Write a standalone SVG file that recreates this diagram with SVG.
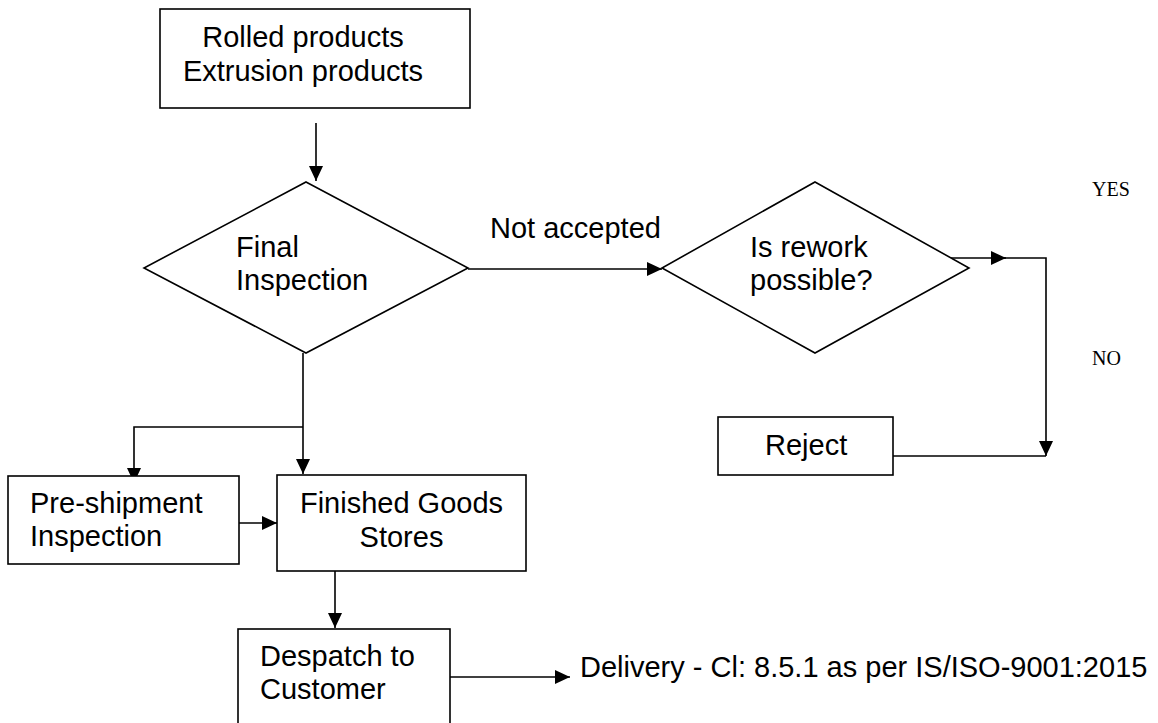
<svg xmlns="http://www.w3.org/2000/svg" width="1158" height="723" viewBox="0 0 1158 723">
  <style>
    .box { fill: #ffffff; stroke: #000000; stroke-width: 1.6; }
    .lbl { font-family: "Liberation Sans", Arial, sans-serif; font-size: 29px; fill: #000000; }
    .mid { text-anchor: middle; }
    .serif { font-family: "Liberation Serif", "Times New Roman", serif; font-size: 20px; fill: #000000; }
    .wire { fill: none; stroke: #000000; stroke-width: 1.6; }
  </style>
  <defs>
    <marker id="arrow" markerUnits="userSpaceOnUse" markerWidth="16" markerHeight="14" refX="15" refY="7" orient="auto">
      <path d="M0,0 L15,7 L0,14 Z" fill="#000000"/>
    </marker>
  </defs>
  <rect width="1158" height="723" fill="#ffffff"/>

  <!-- connectors -->
  <g id="connectors">
    <path class="wire" d="M316,123 V181" marker-end="url(#arrow)"/>
    <path class="wire" d="M468,269 H662" marker-end="url(#arrow)"/>
    <path class="wire" d="M950,258 H1006" marker-end="url(#arrow)"/>
    <path class="wire" d="M1004,258 H1046 V456" marker-end="url(#arrow)"/>
    <path class="wire" d="M893,456 H1046"/>
    <path class="wire" d="M303,353 V474" marker-end="url(#arrow)"/>
    <path class="wire" d="M303,427 H134 V483" marker-end="url(#arrow)"/>
    <path class="wire" d="M230,523 H277" marker-end="url(#arrow)"/>
    <path class="wire" d="M335,571 V628" marker-end="url(#arrow)"/>
    <path class="wire" d="M450,677 H570" marker-end="url(#arrow)"/>
    <text class="lbl" x="490" y="238">Not accepted</text>
    <text class="serif" x="1092" y="196">YES</text>
    <text class="serif" x="1092" y="365">NO</text>
  </g>

  <!-- nodes -->
  <g id="products">
    <rect class="box" x="160" y="9" width="310" height="99"/>
    <text class="lbl mid" x="303" y="47">Rolled products</text>
    <text class="lbl mid" x="303" y="81">Extrusion products</text>
  </g>
  <g id="final-inspection">
    <polygon class="box" points="306,182 468,268 306,353 144,268"/>
    <text class="lbl" x="236" y="257">Final</text>
    <text class="lbl" x="236" y="290">Inspection</text>
  </g>
  <g id="rework">
    <polygon class="box" points="815,182 969,268 815,353 662,268"/>
    <text class="lbl" x="750" y="257">Is rework</text>
    <text class="lbl" x="750" y="290">possible?</text>
  </g>
  <g id="reject">
    <rect class="box" x="718" y="417" width="175" height="58"/>
    <text class="lbl" x="765" y="455">Reject</text>
  </g>
  <g id="pre-shipment">
    <rect class="box" x="8" y="476" width="231" height="88"/>
    <text class="lbl" x="30" y="513">Pre-shipment</text>
    <text class="lbl" x="30" y="546">Inspection</text>
  </g>
  <g id="finished-goods">
    <rect class="box" x="277" y="475" width="249" height="96"/>
    <text class="lbl mid" x="401.5" y="513">Finished Goods</text>
    <text class="lbl mid" x="401.5" y="547">Stores</text>
  </g>
  <g id="despatch">
    <rect class="box" x="238" y="629" width="212" height="110"/>
    <text class="lbl" x="260" y="666">Despatch to</text>
    <text class="lbl" x="260" y="699">Customer</text>
  </g>
  <g id="delivery">
    <text class="lbl" x="580" y="677">Delivery - Cl: 8.5.1 as per IS/ISO-9001:2015</text>
  </g>

  <!-- re-draw entering arrowheads over node borders -->
</svg>
